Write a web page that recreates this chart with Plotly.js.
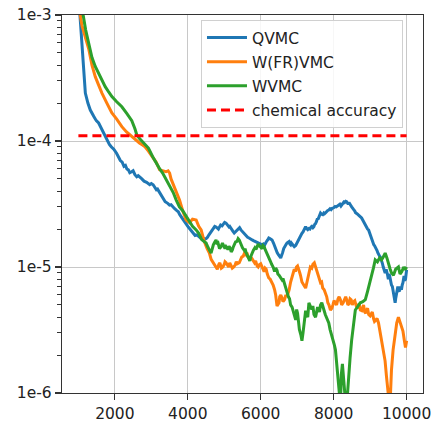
<!DOCTYPE html>
<html>
<head>
<meta charset="utf-8">
<script src="https://cdn.plot.ly/plotly-3.0.1.min.js"></script>
<style>
  html, body { margin: 0; padding: 0; background: #ffffff; }
  #chart { width: 435px; height: 423px; }
</style>
</head>
<body>
<div id="chart"></div>
<script>
// ---- data ----
const seriesNames = ["QVMC", "W(FR)VMC", "WVMC", "chemical accuracy"];

const qvmcSteps = [1000,1060,1100,1150,1190,1260,1326,1419,1490,1555,1650,1700,1782,1850,1900,1970,2046,2100,2150,2200,2250,2290,2330,2370,2409,2460,2500,2550,2600,2640,2682,2740,2800,2870,2955,3000,3050,3100,3138,3170,3200,3250,3310,3340,3380,3450,3500,3540,3582,3640,3700,3740,3780,3855,3920,3960,4000,4030,4060,4090,4128,4160,4200,4250,4300,4350,4400,4450,4502,4540,4580,4620,4650,4700,4740,4775,4810,4840,4870,4900,4940,4970,5010,5048,5080,5100,5130,5150,5180,5200,5240,5274,5300,5321,5350,5380,5420,5457,5500,5530,5560,5600,5640,5680,5720,5765,5800,5850,5900,5950,6000,6040,6070,6100,6130,6150,6190,6220,6250,6280,6311,6350,6380,6410,6450,6480,6500,6530,6548,6580,6600,6630,6650,6690,6720,6750,6775,6800,6820,6840,6860,6890,6920,6958,6990,7030,7060,7100,7130,7160,7200,7231,7260,7290,7320,7350,7380,7400,7430,7457,7480,7500,7530,7550,7580,7600,7620,7640,7670,7700,7730,7750,7780,7800,7830,7866,7900,7930,7960,8000,8040,8070,8100,8139,8170,8200,8230,8250,8280,8300,8330,8357,8380,8400,8420,8440,8470,8494,8520,8550,8580,8600,8640,8680,8720,8767,8800,8820,8850,8870,8900,8930,8958,9000,9020,9050,9080,9100,9120,9140,9170,9190,9210,9230,9260,9280,9313,9340,9360,9390,9413,9440,9460,9480,9500,9520,9540,9560,9585,9610,9630,9660,9686,9700,9720,9740,9760,9780,9800,9830,9858,9880,9900,9930,9950,9970,9985,10000];
const qvmcErr = [1.5e-3,8.0e-4,5.0e-4,3.5e-4,2.4e-4,2.0e-4,1.76e-4,1.57e-4,1.45e-4,1.39e-4,1.22e-4,1.14e-4,1.02e-4,9.4e-5,9.0e-5,8.6e-5,8.0e-5,7.4e-5,7.0e-5,6.8e-5,6.3e-5,6.4e-5,6.0e-5,5.9e-5,5.6e-5,5.7e-5,5.8e-5,5.4e-5,5.2e-5,5.3e-5,5.2e-5,5.0e-5,4.8e-5,4.7e-5,4.5e-5,4.6e-5,4.5e-5,4.3e-5,4.1e-5,4.15e-5,4.0e-5,3.8e-5,3.5e-5,3.45e-5,3.3e-5,3.2e-5,3.1e-5,3.12e-5,3.0e-5,2.9e-5,2.8e-5,2.74e-5,2.6e-5,2.4e-5,2.25e-5,2.2e-5,2.1e-5,2.05e-5,2.0e-5,1.92e-5,1.86e-5,1.82e-5,1.78e-5,1.8e-5,1.75e-5,1.7e-5,1.72e-5,1.66e-5,1.68e-5,1.72e-5,1.8e-5,1.88e-5,1.95e-5,2.05e-5,2.1e-5,2.08e-5,2.04e-5,2.0e-5,2.08e-5,2.15e-5,2.12e-5,2.2e-5,2.26e-5,2.23e-5,2.18e-5,2.15e-5,2.08e-5,2.1e-5,2.02e-5,2.0e-5,1.92e-5,1.86e-5,1.9e-5,1.9e-5,1.96e-5,2.0e-5,2.05e-5,1.97e-5,1.9e-5,1.85e-5,1.8e-5,1.75e-5,1.72e-5,1.7e-5,1.66e-5,1.64e-5,1.62e-5,1.6e-5,1.57e-5,1.55e-5,1.52e-5,1.5e-5,1.52e-5,1.48e-5,1.55e-5,1.58e-5,1.64e-5,1.7e-5,1.68e-5,1.66e-5,1.64e-5,1.55e-5,1.45e-5,1.38e-5,1.3e-5,1.26e-5,1.22e-5,1.2e-5,1.18e-5,1.24e-5,1.3e-5,1.4e-5,1.45e-5,1.5e-5,1.55e-5,1.57e-5,1.59e-5,1.52e-5,1.5e-5,1.55e-5,1.52e-5,1.47e-5,1.45e-5,1.48e-5,1.55e-5,1.6e-5,1.7e-5,1.8e-5,1.85e-5,1.9e-5,2.0e-5,2.09e-5,2.02e-5,1.98e-5,2.02e-5,2.0e-5,2.08e-5,2.1e-5,2.05e-5,2.09e-5,2.18e-5,2.2e-5,2.3e-5,2.4e-5,2.42e-5,2.5e-5,2.6e-5,2.68e-5,2.62e-5,2.6e-5,2.68e-5,2.65e-5,2.7e-5,2.75e-5,2.8e-5,2.83e-5,2.9e-5,2.85e-5,2.92e-5,2.95e-5,3.02e-5,3.0e-5,3.06e-5,3.1e-5,3.15e-5,3.05e-5,3.15e-5,3.2e-5,3.28e-5,3.25e-5,3.32e-5,3.3e-5,3.22e-5,3.15e-5,3.25e-5,3.2e-5,3.08e-5,3.0e-5,2.95e-5,2.85e-5,2.78e-5,2.7e-5,2.65e-5,2.6e-5,2.52e-5,2.45e-5,2.35e-5,2.3e-5,2.2e-5,2.1e-5,2.05e-5,2.0e-5,1.97e-5,1.8e-5,1.75e-5,1.65e-5,1.58e-5,1.5e-5,1.48e-5,1.45e-5,1.4e-5,1.35e-5,1.3e-5,1.25e-5,1.22e-5,1.2e-5,1.14e-5,1.06e-5,1.0e-5,9.4e-6,8.96e-6,9.6e-6,9.2e-6,8.6e-6,8.0e-6,8.8e-6,8.4e-6,7.6e-6,7.2e-6,7.0e-6,6.5e-6,5.8e-6,5.2e-6,5.6e-6,6.2e-6,6.8e-6,7.0e-6,6.5e-6,6.4e-6,7.0e-6,6.6e-6,7.2e-6,7.5e-6,8.5e-6,7.8e-6,8.0e-6,9.0e-6,9.5e-6];

const wfrSteps = [1000,1050,1100,1190,1282,1372,1462,1550,1645,1780,1918,2046,2191,2320,2464,2560,2682,2760,2827,2920,3037,3130,3228,3300,3400,3460,3501,3540,3582,3680,3773,3860,3956,4050,4130,4229,4300,4366,4450,4530,4592,4640,4680,4720,4775,4810,4850,4880,4920,4960,5000,5020,5048,5080,5120,5150,5180,5220,5260,5300,5330,5360,5411,5440,5480,5520,5550,5593,5620,5650,5680,5700,5730,5765,5800,5830,5860,5900,5930,5960,6000,6038,6060,6093,6120,6150,6180,6220,6260,6311,6340,6380,6410,6447,6470,6502,6520,6550,6584,6610,6650,6690,6720,6750,6780,6820,6857,6890,6920,6950,6980,7010,7048,7070,7090,7110,7130,7180,7231,7260,7300,7330,7360,7400,7430,7470,7503,7530,7570,7600,7640,7670,7700,7740,7776,7810,7840,7870,7912,7950,7980,8010,8049,8080,8120,8150,8185,8220,8260,8300,8330,8357,8390,8420,8450,8480,8510,8549,8580,8620,8650,8680,8700,8731,8770,8800,8820,8850,8880,8903,8930,8960,9000,9040,9060,9094,9120,9160,9190,9230,9260,9300,9367,9410,9449,9480,9503,9550,9585,9630,9686,9730,9776,9820,9858,9900,9940,9970,10000];
const wfrErr = [1.6e-3,1.0e-3,8.2e-4,6.8e-4,5.4e-4,4.0e-4,3.24e-4,2.8e-4,2.4e-4,2.0e-4,1.67e-4,1.5e-4,1.3e-4,1.18e-4,1.08e-4,1.03e-4,9.6e-5,9.3e-5,9.0e-5,8.3e-5,7.5e-5,6.8e-5,5.9e-5,5.8e-5,5.7e-5,5.8e-5,5.57e-5,5.0e-5,4.65e-5,4.0e-5,3.4e-5,2.8e-5,2.36e-5,2.25e-5,2.4e-5,2.36e-5,2.1e-5,1.97e-5,1.6e-5,1.4e-5,1.29e-5,1.15e-5,1.1e-5,1.06e-5,1.0e-5,9.6e-6,1.05e-5,1.08e-5,9.8e-6,1.0e-5,1.05e-5,1.1e-5,1.08e-5,1.03e-5,1.0e-5,1.08e-5,1.02e-5,9.8e-6,1.0e-5,1.04e-5,1.1e-5,1.06e-5,1.08e-5,1.14e-5,1.2e-5,1.22e-5,1.28e-5,1.25e-5,1.3e-5,1.2e-5,1.18e-5,1.14e-5,1.2e-5,1.16e-5,1.1e-5,1.08e-5,1.12e-5,1.02e-5,1.0e-5,1.04e-5,1.06e-5,1.0e-5,9.6e-6,9.2e-6,9.8e-6,9.6e-6,8.8e-6,8.2e-6,8.0e-6,7.6e-6,7.2e-6,6.6e-6,6.0e-6,4.9e-6,5.0e-6,5.2e-6,5.8e-6,6.0e-6,5.67e-6,5.3e-6,5.5e-6,6.0e-6,5.8e-6,6.2e-6,6.6e-6,7.6e-6,8.4e-6,9.0e-6,9.6e-6,9.2e-6,1.0e-5,1.02e-5,9.6e-6,9.0e-6,8.6e-6,8.0e-6,7.6e-6,7.2e-6,6.8e-6,7.4e-6,8.5e-6,9.4e-6,1.0e-5,9.8e-6,1.05e-5,1.08e-5,1.0e-5,9.4e-6,8.6e-6,8.2e-6,7.5e-6,7.6e-6,6.8e-6,6.6e-6,6.2e-6,5.8e-6,5.2e-6,5.0e-6,4.56e-6,4.7e-6,5.0e-6,5.4e-6,5.2e-6,5.0e-6,5.6e-6,5.8e-6,5.5e-6,5.0e-6,5.2e-6,5.6e-6,5.8e-6,5.5e-6,5.0e-6,5.1e-6,5.6e-6,5.5e-6,5.0e-6,5.3e-6,5.4e-6,4.9e-6,4.7e-6,5.0e-6,5.1e-6,4.56e-6,4.5e-6,4.8e-6,5.0e-6,4.4e-6,4.3e-6,4.56e-6,4.7e-6,4.2e-6,4.1e-6,4.3e-6,4.4e-6,3.9e-6,3.7e-6,3.8e-6,3.9e-6,3.6e-6,3.2e-6,2.8e-6,2.2e-6,1.8e-6,1.35e-6,1.1e-6,9.5e-7,8.5e-7,1.52e-6,2.2e-6,3.0e-6,3.6e-6,4.0e-6,3.6e-6,3.4e-6,3.1e-6,2.6e-6,2.3e-6,2.6e-6];

const wvmcSteps = [1000,1130,1200,1282,1372,1462,1600,1735,1830,1918,2050,2191,2330,2464,2550,2600,2682,2737,2830,2920,3037,3150,3230,3310,3400,3501,3600,3683,3770,3860,3956,4050,4130,4229,4300,4380,4450,4502,4530,4560,4600,4638,4670,4700,4740,4775,4800,4830,4870,4911,4950,4980,5020,5048,5100,5130,5160,5190,5220,5250,5274,5310,5350,5380,5411,5440,5460,5500,5547,5570,5600,5630,5650,5680,5700,5730,5760,5800,5840,5870,5902,5930,5956,6000,6038,6060,6093,6130,6160,6200,6229,6260,6300,6340,6380,6410,6447,6470,6502,6540,6584,6610,6640,6670,6700,6730,6760,6790,6820,6860,6900,6930,6958,6985,7010,7040,7060,7100,7130,7160,7180,7210,7231,7260,7290,7321,7350,7400,7430,7460,7503,7530,7560,7610,7640,7675,7700,7740,7770,7800,7830,7866,7900,7930,7960,7980,8020,8049,8070,8100,8120,8139,8170,8185,8210,8240,8275,8321,8340,8370,8412,8450,8494,8550,8594,8650,8730,8800,8868,8930,8990,9040,9090,9140,9200,9260,9313,9360,9413,9460,9500,9550,9585,9640,9700,9776,9820,9870,9920,9959,10000];
const wvmcErr = [2.2e-3,1.0e-3,7.6e-4,6.0e-4,4.6e-4,3.9e-4,3.2e-4,2.7e-4,2.45e-4,2.25e-4,2.05e-4,1.87e-4,1.65e-4,1.45e-4,1.25e-4,1.12e-4,1.04e-4,1.0e-4,9.4e-5,8.8e-5,7.5e-5,6.5e-5,6.0e-5,5.57e-5,5.0e-5,4.34e-5,3.9e-5,3.4e-5,3.0e-5,2.8e-5,2.51e-5,2.3e-5,2.1e-5,1.97e-5,1.85e-5,1.65e-5,1.6e-5,1.55e-5,1.48e-5,1.4e-5,1.35e-5,1.29e-5,1.42e-5,1.5e-5,1.58e-5,1.64e-5,1.52e-5,1.55e-5,1.4e-5,1.45e-5,1.55e-5,1.5e-5,1.4e-5,1.45e-5,1.38e-5,1.46e-5,1.42e-5,1.32e-5,1.36e-5,1.45e-5,1.5e-5,1.58e-5,1.6e-5,1.68e-5,1.64e-5,1.55e-5,1.5e-5,1.42e-5,1.36e-5,1.4e-5,1.3e-5,1.24e-5,1.2e-5,1.15e-5,1.12e-5,1.22e-5,1.3e-5,1.36e-5,1.42e-5,1.38e-5,1.45e-5,1.52e-5,1.48e-5,1.42e-5,1.4e-5,1.48e-5,1.45e-5,1.36e-5,1.3e-5,1.26e-5,1.21e-5,1.12e-5,1.05e-5,1.0e-5,9.2e-6,9.8e-6,9.4e-6,8.8e-6,8.6e-6,8.2e-6,7.9e-6,8.1e-6,7.5e-6,7.0e-6,6.6e-6,6.2e-6,5.8e-6,5.6e-6,5.0e-6,4.8e-6,4.4e-6,4.0e-6,3.8e-6,4.6e-6,4.3e-6,3.6e-6,3.2e-6,2.9e-6,2.6e-6,3.0e-6,3.3e-6,4.0e-6,4.5e-6,4.2e-6,4.0e-6,5.2e-6,4.9e-6,4.6e-6,4.9e-6,4.2e-6,4.0e-6,4.4e-6,4.8e-6,4.4e-6,5.0e-6,5.2e-6,4.8e-6,4.5e-6,4.2e-6,4.0e-6,3.8e-6,3.6e-6,3.2e-6,3.0e-6,2.8e-6,2.6e-6,2.4e-6,2.2e-6,1.9e-6,1.6e-6,1.5e-6,1.3e-6,9.0e-7,7.5e-7,1.4e-6,1.7e-6,1.3e-6,8.0e-7,7.5e-7,9.0e-7,1.44e-6,1.9e-6,2.64e-6,3.8e-6,4.56e-6,4.8e-6,5.2e-6,5.3e-6,5.5e-6,6.4e-6,7.4e-6,8.4e-6,9.8e-6,1.14e-5,1.1e-5,1.18e-5,1.14e-5,1.2e-5,1.29e-5,1.18e-5,1.05e-5,9.6e-6,9.0e-6,8.6e-6,9.6e-6,1.0e-5,8.8e-6,9.2e-6,1.0e-5,9.5e-6,1.0e-5];

const accuracySteps = [1000, 10000];
const accuracyLevel = [1.1e-4, 1.1e-4];

const yTickVals = [1e-6, 1e-5, 1e-4, 1e-3];
const yTickText = ["1e-6", "1e-5", "1e-4", "1e-3"];
const yMinorVals = [2e-6,3e-6,4e-6,5e-6,6e-6,7e-6,8e-6,9e-6,2e-5,3e-5,4e-5,5e-5,6e-5,7e-5,8e-5,9e-5,2e-4,3e-4,4e-4,5e-4,6e-4,7e-4,8e-4,9e-4];
const xTickVals = [2000, 4000, 6000, 8000, 10000];

// ---- drawing ----
const FONT = "DejaVu Sans, Liberation Sans, sans-serif";
const lw = 3;
function tr(x, y, name, color, group, dash) {
  return {
    x: x, y: y, name: name, type: "scatter", mode: "lines",
    legendgroup: group,
    line: { color: color, width: lw, dash: dash || "solid" },
    hoverinfo: "skip"
  };
}
const traces = [
  tr(qvmcSteps, qvmcErr, seriesNames[0], "#1f77b4", "g1"),
  tr(wfrSteps, wfrErr, seriesNames[1], "#ff7f0e", "g2"),
  tr(wvmcSteps, wvmcErr, seriesNames[2], "#2ca02c", "g3"),
  tr(accuracySteps, accuracyLevel, seriesNames[3], "#ff0000", "g4", "9px,5px")
];

const axisCommon = {
  showline: true, mirror: true, linecolor: "#333333", linewidth: 1.2,
  showgrid: true, gridcolor: "#c8c8c8", gridwidth: 1,
  ticks: "outside", ticklen: 6, tickwidth: 1.2, tickcolor: "#333333",
  zeroline: false,
  tickfont: { family: FONT, size: 15.5, color: "#222222" }
};

const layout = {
  width: 435, height: 423,
  margin: { l: 62, r: 12, t: 15, b: 30, pad: 0 },
  paper_bgcolor: "#ffffff", plot_bgcolor: "#ffffff",
  font: { family: FONT, size: 15.5, color: "#222222" },
  showlegend: true,
  xaxis: Object.assign({}, axisCommon, {
    range: [550, 10450],
    tickmode: "array", tickvals: xTickVals, tickformat: "d"
  }),
  yaxis: Object.assign({}, axisCommon, {
    type: "log", range: [-6, -3],
    tickmode: "array", tickvals: yTickVals, ticktext: yTickText,
    minor: { tickmode: "array", tickvals: yMinorVals, ticks: "outside", ticklen: 3.5, tickwidth: 1, tickcolor: "#333333", showgrid: false }
  }),
  legend: {
    x: 0.385, y: 0.987, xanchor: "left", yanchor: "top",
    bgcolor: "rgba(255,255,255,0.85)", bordercolor: "#d0d0d0", borderwidth: 1,
    font: { family: FONT, size: 15.5, color: "#222222" },
    traceorder: "grouped", tracegroupgap: 1, itemwidth: 40
  }
};

Plotly.newPlot("chart", traces, layout, { staticPlot: true, displayModeBar: false });
</script>
</body>
</html>
